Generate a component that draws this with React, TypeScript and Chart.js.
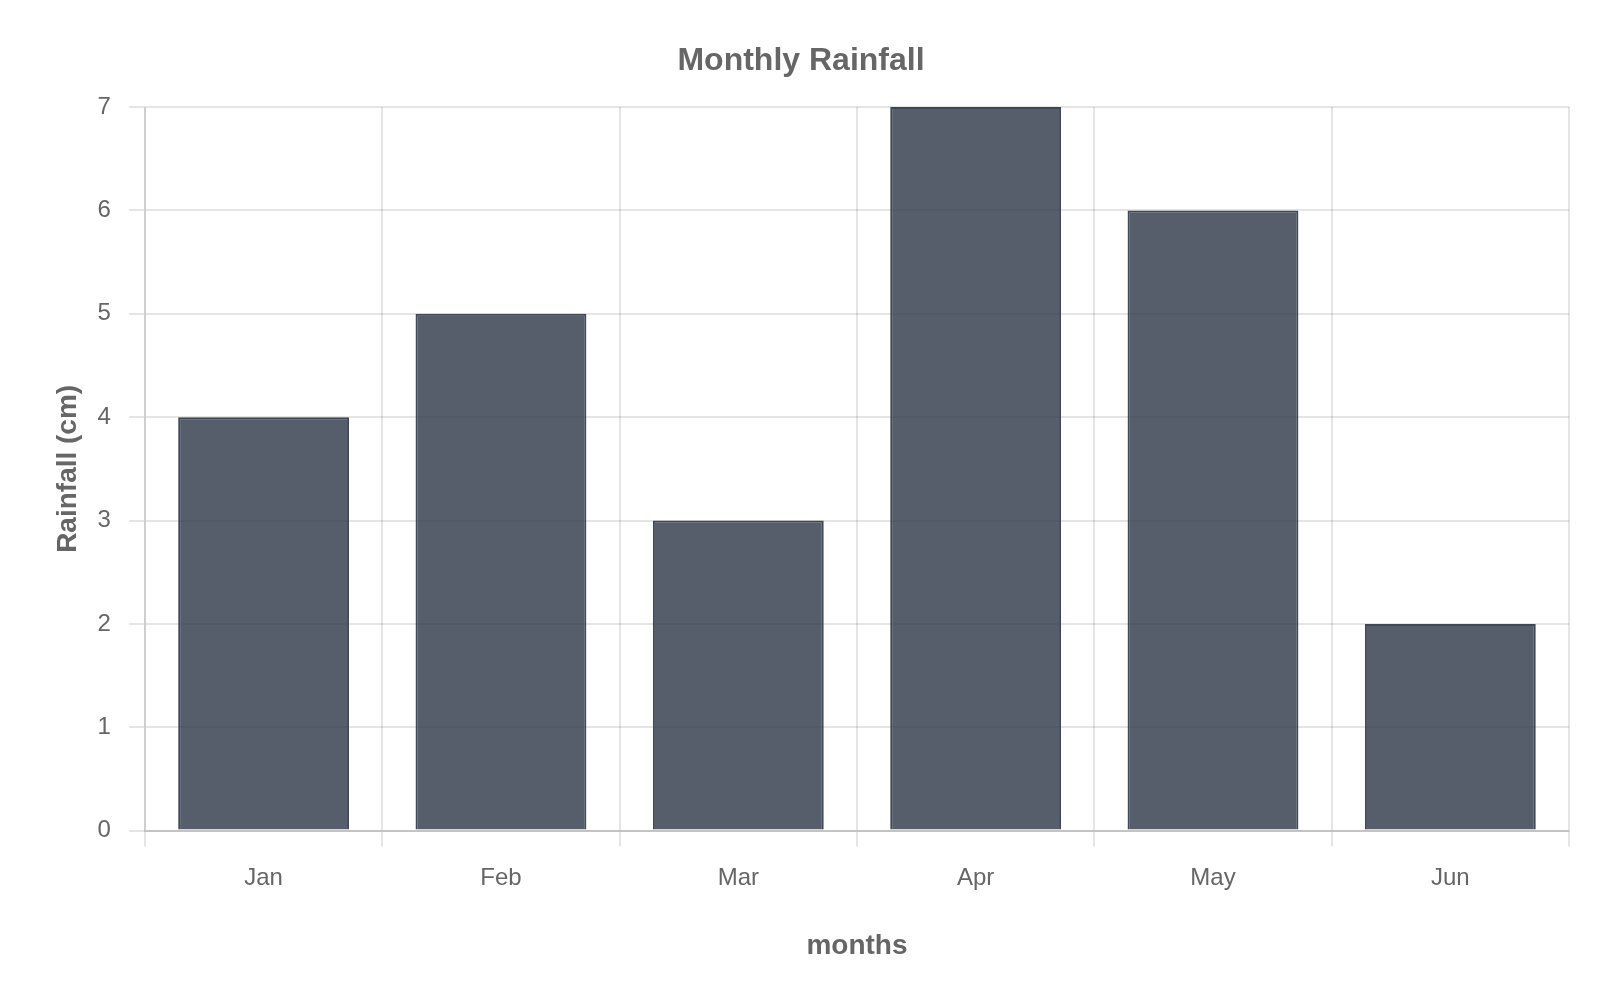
import React, { useEffect, useRef } from "react";
import { Chart, registerables } from "chart.js";

Chart.register(...registerables);

const months = ["Jan", "Feb", "Mar", "Apr", "May", "Jun"];
const rainfall = [4, 5, 3, 7, 6, 2];
const chartTitle = "Monthly Rainfall";
const xTitle = "months";
const yTitle = "Rainfall (cm)";

const FONT = "'Liberation Sans', Arial, Helvetica, sans-serif";
const TEXT = "#666666";
const GRID = "rgba(0,0,0,0.1)";

export default function App() {
  const ref = useRef<HTMLCanvasElement | null>(null);

  useEffect(() => {
    document.body.style.margin = "0";
    const ctx = ref.current;
    if (!ctx) return;
    const chart = new Chart(ctx, {
      type: "bar",
      data: {
        labels: months,
        datasets: [
          {
            label: "Rainfall",
            data: rainfall,
            backgroundColor: "rgba(43,54,69,0.8)",
            borderColor: "rgba(43,54,69,0.9)",
            borderWidth: 2,
          },
        ],
      },
      options: {
        responsive: true,
        maintainAspectRatio: false,
        animation: false,
        layout: { padding: { left: 33, right: 31, top: 43, bottom: 29 } },
        plugins: {
          legend: { display: false },
          tooltip: { enabled: false },
          title: {
            display: true,
            text: chartTitle,
            color: TEXT,
            font: { family: FONT, size: 32, weight: "bold", lineHeight: 1.16 },
            padding: { top: 0, bottom: 27 },
          },
        },
        scales: {
          x: {
            grid: { color: GRID, lineWidth: 2, tickLength: 16 },
            border: { color: "rgba(0,0,0,0.15)", width: 2 },
            ticks: {
              color: TEXT,
              font: { family: FONT, size: 24 },
              padding: 17,
            },
            title: {
              display: true,
              text: xTitle,
              color: TEXT,
              font: { family: FONT, size: 28, weight: "bold" },
              padding: { top: 20, bottom: 8 },
            },
          },
          y: {
            min: 0,
            max: 7,
            grid: { color: GRID, lineWidth: 2, tickLength: 16 },
            border: { color: "rgba(0,0,0,0.1)", width: 2 },
            ticks: {
              stepSize: 1,
              color: TEXT,
              font: { family: FONT, size: 24 },
              padding: 18,
            },
            title: {
              display: true,
              text: yTitle,
              color: TEXT,
              font: { family: FONT, size: 28, weight: "bold" },
              padding: { top: 18, bottom: -5 },
            },
          },
        },
      },
    });
    return () => chart.destroy();
  }, []);

  return (
    <div style={{ position: "relative", width: "1600px", height: "1000px" }}>
      <canvas ref={ref} />
    </div>
  );
}
